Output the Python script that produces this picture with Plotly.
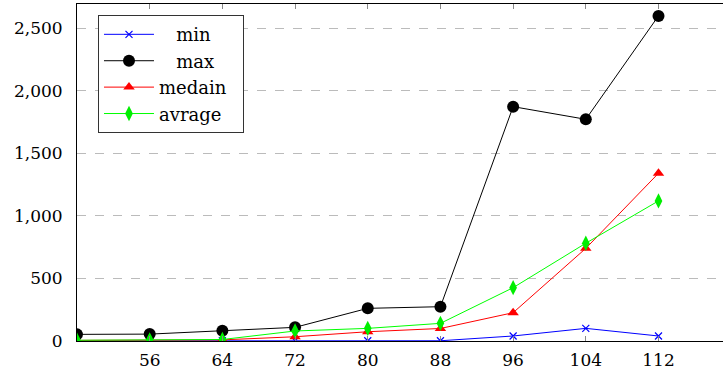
import plotly.graph_objects as go

x_vals = [48, 56, 64, 72, 80, 88, 96, 104, 112]
min_vals = [1, 1, 2, 2, 2, 2, 40, 101, 40]
max_vals = [53, 55, 82, 109, 261, 274, 1872, 1771, 2597]
median_vals = [5, 6, 9, 34, 74, 100, 226, 740, 1340]
avg_vals = [6, 9, 12, 80, 101, 141, 426, 781, 1119]
x_ticks = [56, 64, 72, 80, 88, 96, 104, 112]
y_ticks = [0, 500, 1000, 1500, 2000, 2500]
series_names = ["min", "max", "medain", "avrage"]

FONT = "DejaVu Serif"
NB = "\u00a0"
pads_left = [3, 3, 0, 0]
pads_right = [4, 4, 1, 1]
labels = [NB * a + n + NB * b for a, n, b in zip(pads_left, series_names, pads_right)]

fig = go.Figure()
fig.add_trace(go.Scatter(x=x_vals, y=min_vals, name=labels[0], legendgroup="a", mode="lines+markers",
                         line=dict(color="#0000ff", width=1),
                         marker=dict(symbol="x-thin", size=7, line=dict(color="#0000ff", width=1.2))))
fig.add_trace(go.Scatter(x=x_vals, y=max_vals, name=labels[1], legendgroup="b", mode="lines+markers",
                         line=dict(color="#000000", width=1),
                         marker=dict(symbol="circle", size=12, color="#000000")))
fig.add_trace(go.Scatter(x=x_vals, y=median_vals, name=labels[2], legendgroup="c", mode="lines+markers",
                         line=dict(color="#ff0000", width=1),
                         marker=dict(symbol="triangle-up", size=10, color="#ff0000")))
fig.add_trace(go.Scatter(x=x_vals, y=avg_vals, name=labels[3], legendgroup="d", mode="lines+markers",
                         line=dict(color="#00ff00", width=1),
                         marker=dict(symbol="diamond-tall", size=11, color="#00ee00")))

fig.update_layout(
    width=723, height=374,
    margin=dict(l=77, r=0, t=4, b=33),
    plot_bgcolor="white", paper_bgcolor="white",
    font=dict(family=FONT, size=17, color="black"),
    showlegend=True,
    legend=dict(x=0.0325, y=0.967, xanchor="left", yanchor="top",
                bordercolor="#333333", borderwidth=1, bgcolor="white",
                font=dict(family=FONT, size=18), tracegroupgap=0,
                itemwidth=50),
    xaxis=dict(range=[48, 119.1], tickvals=x_ticks, showgrid=False, zeroline=False,
               showline=True, linecolor="black", linewidth=1, mirror="ticks",
               ticks="inside", ticklen=5, tickcolor="#888888",
               ticklabelstandoff=4,
               tickfont=dict(family=FONT, size=17)),
    yaxis=dict(range=[0, 2692], tickvals=y_ticks, tickformat=",", showgrid=True,
               gridcolor="#bbbbbb", griddash="dash", gridwidth=1, zeroline=False,
               showline=True, linecolor="black", linewidth=1,
               ticks="", ticklabelstandoff=10,
               tickfont=dict(family=FONT, size=17)),
)

fig.write_html("out.html")
